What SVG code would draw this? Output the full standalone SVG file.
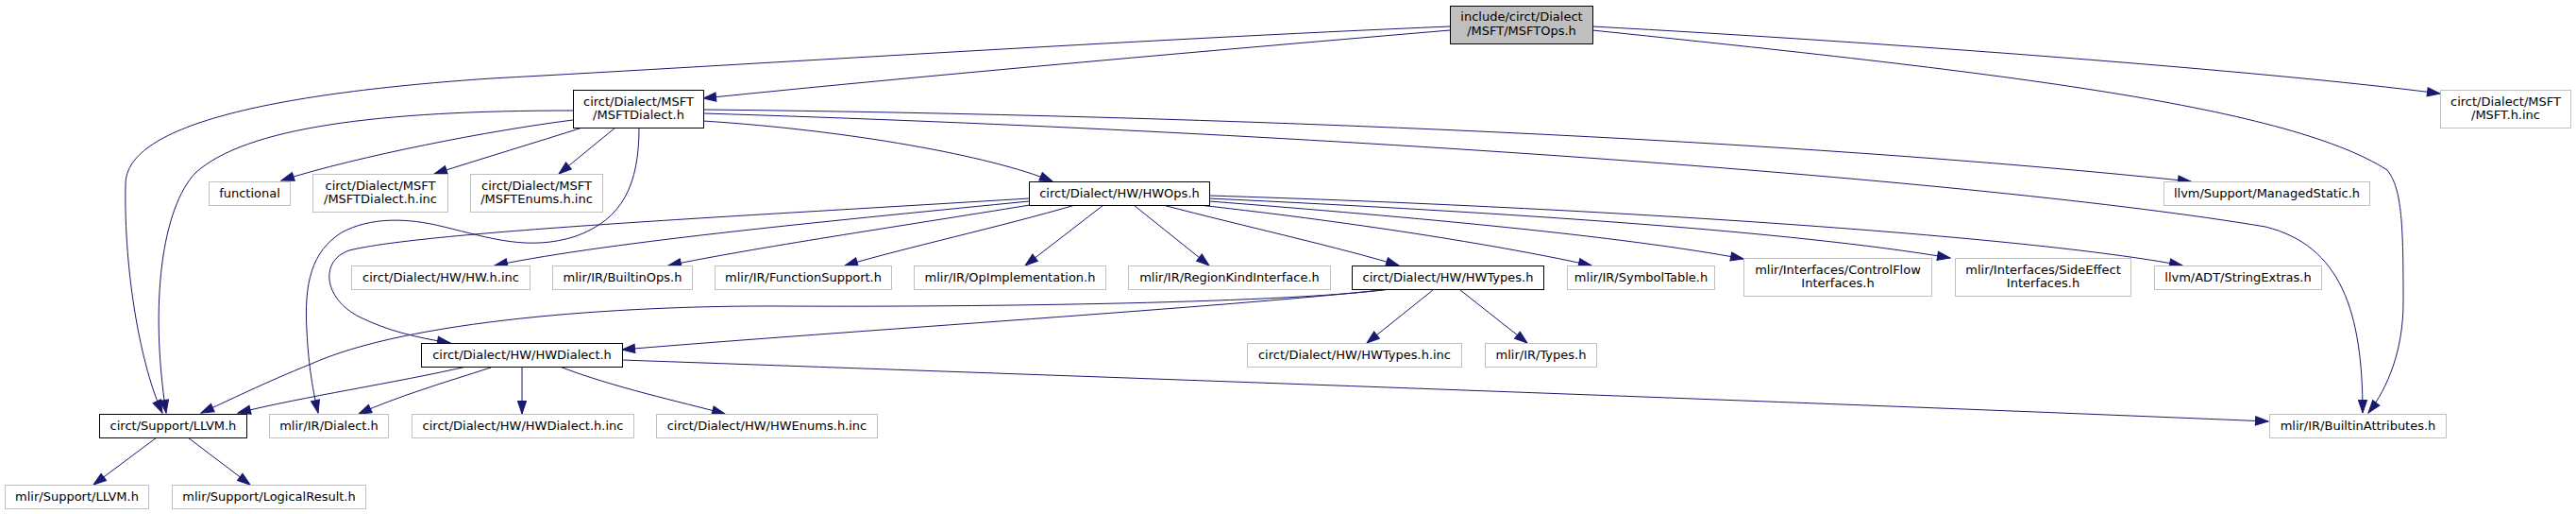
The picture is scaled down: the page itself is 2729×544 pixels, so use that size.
<svg xmlns="http://www.w3.org/2000/svg" width="2729" height="544" viewBox="0 0 2729 544">
<style>
  rect { fill: #ffffff; stroke: #bfbfbf; stroke-width: 1; }
  .b rect { stroke: #000000; }
  #n_root rect { fill: #bfbfbf; stroke: #000000; }
  text { font-family: "DejaVu Sans", "Liberation Sans", sans-serif; font-size: 13px; fill: #000000; text-anchor: middle; }
  #edges path { fill: none; stroke: #191970; stroke-width: 1; marker-end: url(#ah); }
</style>
<defs>
  <marker id="ah" viewBox="0 0 14 10" refX="13.5" refY="5" markerWidth="14" markerHeight="10" markerUnits="userSpaceOnUse" orient="auto" overflow="visible">
    <path d="M0,0.4 L13.5,5 L0,9.6 Z" fill="#191970" stroke="#191970" stroke-width="1"/>
  </marker>
</defs>
<rect x="0" y="0" width="2729" height="544" style="fill:#ffffff;stroke:none"/>
<g id="edges">
  <!-- root edges -->
  <path d="M1536,32 C1300,52 1000,78 745,104"/>
  <path d="M1536,28 C1200,42 800,68 520,83 C300,98 133,130 133,195 C131,290 150,390 172,437"/>
  <path d="M1687,28 C2000,45 2400,75 2585,99"/>
  <path d="M1687,32 C2100,75 2420,110 2529,180 C2545,200 2546,240 2546,320 C2546,370 2530,410 2509,437"/>
  <!-- MSFTDialect edges -->
  <path d="M607,117 C400,117 260,135 207,183 C172,220 158,320 176,437"/>
  <path d="M607,127 C520,138 380,165 298,191"/>
  <path d="M617,135 C570,150 510,168 460,184"/>
  <path d="M652,135 L592,184"/>
  <path d="M677,135 C677,195 660,232 610,250 C560,266 520,252 470,240 C430,230 392,230 362,246 C330,266 322,300 325,350 C327,390 332,415 337,437"/>
  <path d="M745,128 C900,138 1050,165 1115,192"/>
  <path d="M745,116 C1300,122 1900,148 2321,192"/>
  <path d="M745,120 C1400,140 2100,190 2400,240 C2480,260 2503,330 2503,437"/>
  <!-- HWOps edges -->
  <path d="M1090,210 C800,228 450,245 370,265 C338,276 343,316 380,335 C410,350 440,357 477,363"/>
  <path d="M1090,213 C900,232 650,255 524,281"/>
  <path d="M1091,217 C950,240 800,262 708,281"/>
  <path d="M1139,217 C1060,240 960,262 895,281"/>
  <path d="M1169,217 L1086,281"/>
  <path d="M1201,217 L1281,281"/>
  <path d="M1232,217 C1320,240 1420,262 1482,281"/>
  <path d="M1270,217 C1450,237 1600,262 1686,281"/>
  <path d="M1281,213 C1500,230 1720,250 1847,274"/>
  <path d="M1281,210 C1600,225 1900,245 2066,273"/>
  <path d="M1281,207 C1700,220 2150,250 2312,281"/>
  <!-- HWTypes edges -->
  <path d="M1473,306 C1300,325 900,350 659,370"/>
  <path d="M1473,306 C1350,322 1000,325 830,324 C650,323 430,340 330,385 C280,405 240,425 213,437"/>
  <path d="M1518,307 L1448,363"/>
  <path d="M1547,307 L1618,363"/>
  <!-- HWDialect edges -->
  <path d="M494,388 C420,405 320,420 252,437"/>
  <path d="M520,389 C470,405 420,420 380,438"/>
  <path d="M553,389 L553,438"/>
  <path d="M593,388 C650,410 720,425 768,438"/>
  <path d="M659,381 C1200,400 1900,425 2403,446"/>
  <!-- LLVM edges -->
  <path d="M166,463 L99,513"/>
  <path d="M199,463 L265,513"/>
</g>
<g id="n_root"><rect x="1536.5" y="6.5" width="151" height="40"/><text x="1612" y="22">include/circt/Dialect</text><text x="1612" y="37">/MSFT/MSFTOps.h</text></g>
<g id="n_msftdialect" class="b"><rect x="607.5" y="95.5" width="138" height="40"/><text x="676.5" y="112">circt/Dialect/MSFT</text><text x="676.5" y="126">/MSFTDialect.h</text></g>
<g id="n_functional"><rect x="221.5" y="192.5" width="86" height="25"/><text x="264.5" y="209">functional</text></g>
<g id="n_msftdialectinc"><rect x="331.5" y="184.5" width="143" height="40"/><text x="403" y="201">circt/Dialect/MSFT</text><text x="403" y="215">/MSFTDialect.h.inc</text></g>
<g id="n_msftenums"><rect x="498.5" y="184.5" width="140" height="40"/><text x="568.5" y="201">circt/Dialect/MSFT</text><text x="568.5" y="215">/MSFTEnums.h.inc</text></g>
<g id="n_hwops" class="b"><rect x="1090.5" y="192.5" width="191" height="25"/><text x="1186" y="209">circt/Dialect/HW/HWOps.h</text></g>
<g id="n_managedstatic"><rect x="2292.5" y="192.5" width="218" height="25"/><text x="2401.5" y="209">llvm/Support/ManagedStatic.h</text></g>
<g id="n_msftinc"><rect x="2585.5" y="95.5" width="138" height="40"/><text x="2654.5" y="112">circt/Dialect/MSFT</text><text x="2654.5" y="126">/MSFT.h.inc</text></g>
<g id="n_hwinc"><rect x="372.5" y="281.5" width="189" height="25"/><text x="467" y="298">circt/Dialect/HW/HW.h.inc</text></g>
<g id="n_builtinops"><rect x="585.5" y="281.5" width="148" height="25"/><text x="659.5" y="298">mlir/IR/BuiltinOps.h</text></g>
<g id="n_functionsupport"><rect x="757.5" y="281.5" width="187" height="25"/><text x="851" y="298">mlir/IR/FunctionSupport.h</text></g>
<g id="n_opimpl"><rect x="968.5" y="281.5" width="203" height="25"/><text x="1070" y="298">mlir/IR/OpImplementation.h</text></g>
<g id="n_regionkind"><rect x="1195.5" y="281.5" width="214" height="25"/><text x="1302.5" y="298">mlir/IR/RegionKindInterface.h</text></g>
<g id="n_hwtypes" class="b"><rect x="1432.5" y="281.5" width="203" height="25"/><text x="1534" y="298">circt/Dialect/HW/HWTypes.h</text></g>
<g id="n_symboltable"><rect x="1660.5" y="281.5" width="156" height="25"/><text x="1738.5" y="298">mlir/IR/SymbolTable.h</text></g>
<g id="n_controlflow"><rect x="1847.5" y="273.5" width="199" height="40"/><text x="1947" y="290">mlir/Interfaces/ControlFlow</text><text x="1947" y="304">Interfaces.h</text></g>
<g id="n_sideeffect"><rect x="2071.5" y="273.5" width="186" height="40"/><text x="2164.5" y="290">mlir/Interfaces/SideEffect</text><text x="2164.5" y="304">Interfaces.h</text></g>
<g id="n_stringextras"><rect x="2282.5" y="281.5" width="177" height="25"/><text x="2371" y="298">llvm/ADT/StringExtras.h</text></g>
<g id="n_hwdialect" class="b"><rect x="446.5" y="363.5" width="213" height="25"/><text x="553" y="380">circt/Dialect/HW/HWDialect.h</text></g>
<g id="n_hwtypesinc"><rect x="1321.5" y="363.5" width="227" height="25"/><text x="1435" y="380">circt/Dialect/HW/HWTypes.h.inc</text></g>
<g id="n_types"><rect x="1573.5" y="363.5" width="118" height="25"/><text x="1632.5" y="380">mlir/IR/Types.h</text></g>
<g id="n_llvm" class="b"><rect x="105.5" y="438.5" width="156" height="25"/><text x="183.5" y="455">circt/Support/LLVM.h</text></g>
<g id="n_dialect"><rect x="285.5" y="438.5" width="126" height="25"/><text x="348.5" y="455">mlir/IR/Dialect.h</text></g>
<g id="n_hwdialectinc"><rect x="436.5" y="438.5" width="235" height="25"/><text x="554" y="455">circt/Dialect/HW/HWDialect.h.inc</text></g>
<g id="n_hwenums"><rect x="695.5" y="438.5" width="234" height="25"/><text x="812.5" y="455">circt/Dialect/HW/HWEnums.h.inc</text></g>
<g id="n_builtinattrs"><rect x="2404.5" y="438.5" width="187" height="25"/><text x="2498" y="455">mlir/IR/BuiltinAttributes.h</text></g>
<g id="n_mlirllvm"><rect x="5.5" y="513.5" width="152" height="25"/><text x="81.5" y="530">mlir/Support/LLVM.h</text></g>
<g id="n_logicalresult"><rect x="182.5" y="513.5" width="205" height="25"/><text x="285" y="530">mlir/Support/LogicalResult.h</text></g>
</svg>
